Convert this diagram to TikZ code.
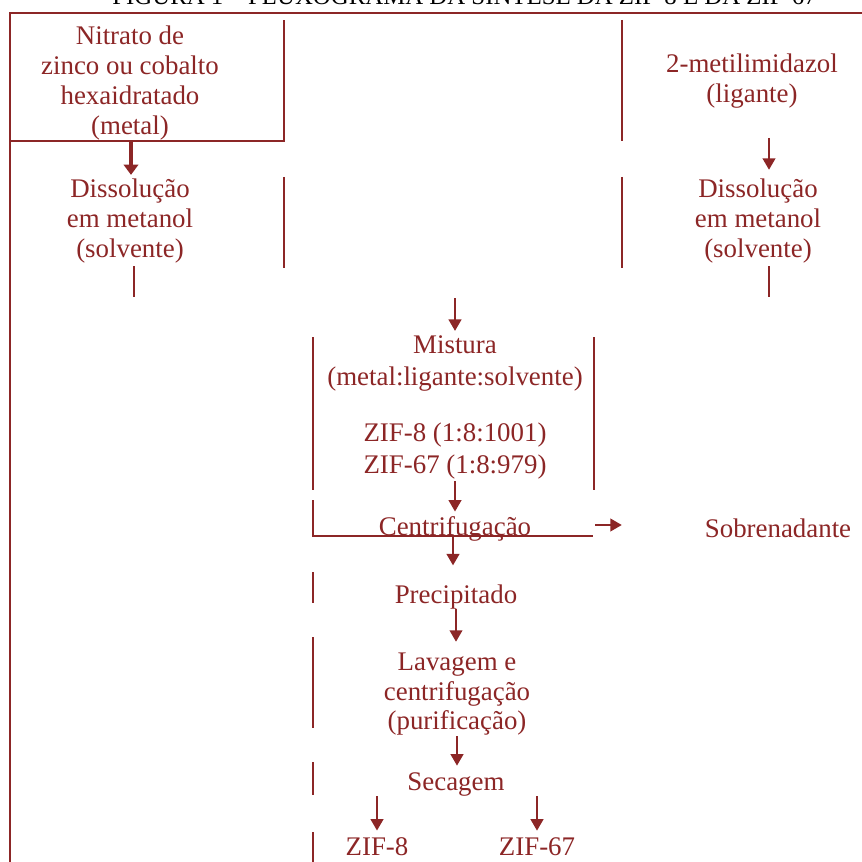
\documentclass[tikz,border=0pt]{standalone}
\usepackage{fontspec}
\setmainfont{Liberation Serif}
\usetikzlibrary{arrows.meta}
\definecolor{flowred}{RGB}{140,38,38}

\begin{document}
\begin{tikzpicture}[x=0.017cm,y=-0.017cm,
			ln/.style={flowred,line width=0.8pt},
			fr/.style={flowred,line width=1.3pt},
			ar/.style={flowred,line width=0.7pt,-{Triangle[length=5.5pt,width=6.2pt]}},
			arb/.style={flowred,line width=1.5pt,-{Triangle[length=5pt,width=7pt]}},
			tx/.style={text=flowred,align=center,inner sep=0pt,
				font=\fontsize{13}{14.5}\selectfont},
			txw/.style={tx,font=\fontsize{13}{15.5}\selectfont}]
			
			\useasboundingbox (0,0) rectangle (862,862);
			
			% Title, cut by the page edge
			\node[anchor=base west,inner sep=0pt,font=\fontsize{12}{14}\selectfont] (title)
			at (112,5) {FIGURA 1 – FLUXOGRAMA DA SÍNTESE DA ZIF-8 E DA ZIF-67};
			
			% Table rules
			\draw[fr] (862,13) -- (10,13) -- (10,862);
			\draw[ln] (10,141) -- (284,141) -- (284,20);
			\draw[ln] (284,177) -- (284,268);
			\draw[ln] (622,20) -- (622,141);
			\draw[ln] (622,177) -- (622,268);
			\draw[ln] (134,266) -- (134,297);
			\draw[ln] (769,266) -- (769,297);
			\draw[ln] (313,337) -- (313,490);
			\draw[ln] (594,337) -- (594,490);
			\draw[ln] (313,500) -- (313,536) -- (593,536);
			\foreach \ya/\yb in {572/603,637/728,762/795,832/862}
			\draw[ln] (313,\ya) -- (313,\yb);
			
			% Reagents
			\node[tx,anchor=north] (metal) at (130,25)
			{Nitrato de\\zinco ou cobalto\\hexaidratado\\(metal)};
			\node[tx,anchor=north] (ligante) at (752,53)
			{2-metilimidazol\\(ligante)};
			\node[tx,anchor=north] (dissA) at (130,178)
			{Dissolução\\em metanol\\(solvente)};
			\node[tx,anchor=north] (dissB) at (758,178)
			{Dissolução\\em metanol\\(solvente)};
			
			% Synthesis
			\node[txw,anchor=north] (mistura) at (455,335)
			{Mistura\\(metal:ligante:solvente)};
			\node[txw,anchor=north] (razao) at (455,422)
			{ZIF-8 (1:8:1001)\\ZIF-67 (1:8:979)};
			\node[tx,anchor=base] (centri) at (455,535) {Centrifugação};
			\node[tx,anchor=base] (sobre) at (778,537) {Sobrenadante};
			\node[tx,anchor=base] (precip) at (456,603) {Precipitado};
			\node[tx,anchor=north] (lavagem) at (457,652)
			{Lavagem e\\centrifugação\\(purificação)};
			\node[tx,anchor=base] (secagem) at (456,790) {Secagem};
			\node[tx,anchor=base] (zif8) at (377,855) {ZIF-8};
			\node[tx,anchor=base] (zif67) at (537,855) {ZIF-67};
			
			% Arrows
			\coordinate (metalout) at (131,141);
			\coordinate (ligout) at (769,138);
			\coordinate (mixin) at (455,298);
			\coordinate (sideout) at (595,525);
			\coordinate (centrout) at (453,536);
			\draw[arb,shorten >=1.5pt] (metalout) -- (metalout |- dissA.north);
			\draw[ar,shorten >=4pt] (ligout) -- (ligout |- dissB.north);
			\draw[ar,shorten >=2pt] (mixin) -- (mixin |- mistura.north);
			\draw[ar,shorten <=1pt,shorten >=2pt] (razao.south) -- (razao.south |- centri.north);
			\draw[ar,shorten >=40pt] (sideout) -- (sideout -| sobre.west);
			\draw[ar,shorten >=9pt] (centrout) -- (centrout |- precip.north);
			\draw[ar,shorten >=5pt] (precip.south) -- (precip.south |- lavagem.north);
			\draw[ar,shorten >=3pt] (lavagem.south) -- (lavagem.south |- secagem.north);
			\draw[ar,shorten >=3pt] (zif8 |- secagem.south) -- (zif8.north);
			\draw[ar,shorten >=3pt] (zif67.north |- secagem.south) -- (zif67.north);
			
		\end{tikzpicture}
\end{document}
